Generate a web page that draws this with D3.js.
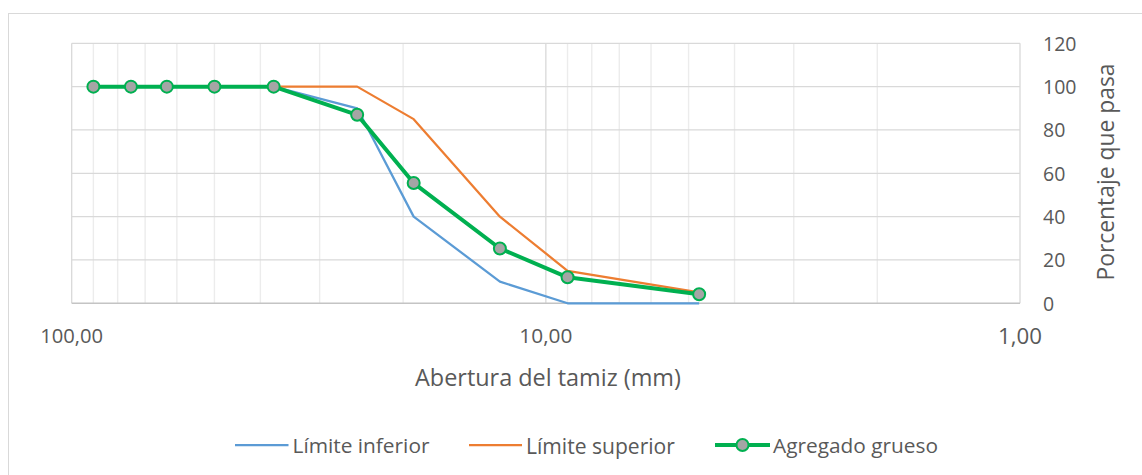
<!DOCTYPE html>
<html>
<head>
<meta charset="utf-8">
<script src="https://cdn.jsdelivr.net/npm/d3@7/dist/d3.min.js"></script>
<style>
  html, body { margin: 0; padding: 0; background: #fff; }
  svg { display: block; }
  text { font-family: "Open Sans", "Noto Sans", sans-serif; fill: #595959; }
</style>
</head>
<body>
<svg id="chart" width="1142" height="475"></svg>
<script>
// Sieve openings (mm) and percentage passing
const tamiz = [90, 75, 63, 50, 37.5, 25, 19, 12.5, 9, 4.75];
const limiteInferior = [100, 100, 100, 100, 100, 90, 40, 10, 0, 0];
const limiteSuperior = [100, 100, 100, 100, 100, 100, 85, 40, 15, 5];
const agregadoGrueso = [100, 100, 100, 100, 100, 87, 55.5, 25.3, 12, 4.2];

// Axis ticks
const xTicks = [100, 10, 1];
const xTickLabels = ["100,00", "10,00", "1,00"];
const xMinorTicks = [90, 80, 70, 60, 50, 40, 30, 20, 9, 8, 7, 6, 5, 4, 3, 2];
const yTicks = [0, 20, 40, 60, 80, 100, 120];

const seriesNames = ["Límite inferior", "Límite superior", "Agregado grueso"];
const colors = { inf: "#5b9bd5", sup: "#ed7d31", agr: "#00b050", marker: "#a5a5a5" };

const svg = d3.select("#chart");

// Chart frame
svg.append("rect")
  .attr("x", 8.5).attr("y", 13.5)
  .attr("width", 1200).attr("height", 500)
  .attr("fill", "none").attr("stroke", "#d9d9d9").attr("stroke-width", 1);

const plot = { left: 71.7, right: 1020, top: 43.3, bottom: 303.3 };

// Log scale running from coarse (left) to fine (right)
const x = d3.scaleLog().domain([100, 1]).range([plot.left, plot.right]);
const y = d3.scaleLinear().domain([0, 120]).range([plot.bottom, plot.top]);

const grid = svg.append("g");

// Minor vertical gridlines
grid.selectAll("line.minor").data(xMinorTicks).join("line")
  .attr("class", "minor")
  .attr("x1", d => x(d)).attr("x2", d => x(d))
  .attr("y1", plot.top).attr("y2", plot.bottom)
  .attr("stroke", "#ececec").attr("stroke-width", 1.4);

// Horizontal gridlines
grid.selectAll("line.h").data(yTicks.filter(d => d > 0)).join("line")
  .attr("class", "h")
  .attr("x1", plot.left).attr("x2", plot.right)
  .attr("y1", d => y(d)).attr("y2", d => y(d))
  .attr("stroke", "#d9d9d9").attr("stroke-width", 1.3);

// Major vertical gridlines
grid.selectAll("line.major").data(xTicks).join("line")
  .attr("class", "major")
  .attr("x1", d => x(d)).attr("x2", d => x(d))
  .attr("y1", plot.top).attr("y2", plot.bottom)
  .attr("stroke", "#d9d9d9").attr("stroke-width", 1.3);

// Horizontal axis line at 0
grid.append("line")
  .attr("x1", plot.left).attr("x2", plot.right)
  .attr("y1", y(0)).attr("y2", y(0))
  .attr("stroke", "#c4c4c4").attr("stroke-width", 1.5);

// Fit a label's font size to a target width
function fitText(sel, targetWidth, base) {
  sel.style("font-size", base + "px");
  const w = sel.node().getComputedTextLength();
  sel.style("font-size", (base * targetWidth / w).toFixed(2) + "px");
  return sel;
}

// X tick labels
const xAxisG = svg.append("g");
xTicks.forEach((t, i) => {
  const lbl = xAxisG.append("text")
    .attr("x", x(t)).attr("y", 335)
    .attr("text-anchor", "middle").attr("dominant-baseline", "central")
    .text(xTickLabels[i]);
  fitText(lbl, i === 0 ? 63 : (i === 1 ? 53 : 44), 20);
});

// Y tick labels (right side)
const yAxisG = svg.append("g");
yTicks.forEach(t => {
  const lbl = yAxisG.append("text")
    .attr("x", 1043).attr("y", y(t))
    .attr("text-anchor", "start").attr("dominant-baseline", "central")
    .text(t);
  lbl.style("font-size", "19.5px");
});

// Axis titles
fitText(svg.append("text")
  .attr("x", 548).attr("y", 377)
  .attr("text-anchor", "middle").attr("dominant-baseline", "central")
  .text("Abertura del tamiz (mm)"), 266, 20);

fitText(svg.append("text")
  .attr("transform", `translate(1105,172) rotate(-90)`)
  .attr("text-anchor", "middle").attr("dominant-baseline", "central")
  .text("Porcentaje que pasa"), 217, 20);

// Series lines
const line = vals => d3.line()
  .x((d, i) => x(tamiz[i]))
  .y(d => y(d))(vals);

svg.append("path").attr("d", line(limiteInferior))
  .attr("fill", "none").attr("stroke", colors.inf).attr("stroke-width", 2.25)
  .attr("stroke-linejoin", "round");
svg.append("path").attr("d", line(limiteSuperior))
  .attr("fill", "none").attr("stroke", colors.sup).attr("stroke-width", 2.25)
  .attr("stroke-linejoin", "round");
svg.append("path").attr("d", line(agregadoGrueso))
  .attr("fill", "none").attr("stroke", colors.agr).attr("stroke-width", 4)
  .attr("stroke-linejoin", "round");

svg.selectAll("circle.pt").data(agregadoGrueso).join("circle")
  .attr("class", "pt")
  .attr("cx", (d, i) => x(tamiz[i])).attr("cy", d => y(d))
  .attr("r", 6)
  .attr("fill", colors.marker).attr("stroke", colors.agr).attr("stroke-width", 2);

// Legend
const legendY = 445;
const legend = [
  { name: seriesNames[0], color: colors.inf, x0: 235, x1: 288.5, tx: 292.5, w: 137, width: 2.25, marker: false },
  { name: seriesNames[1], color: colors.sup, x0: 469, x1: 522, tx: 526, w: 149, width: 2.25, marker: false },
  { name: seriesNames[2], color: colors.agr, x0: 715, x1: 770, tx: 773, w: 165, width: 4, marker: true }
];
const lg = svg.append("g");
legend.forEach(l => {
  lg.append("line")
    .attr("x1", l.x0).attr("x2", l.x1).attr("y1", legendY).attr("y2", legendY)
    .attr("stroke", l.color).attr("stroke-width", l.width);
  if (l.marker) {
    lg.append("circle")
      .attr("cx", (l.x0 + l.x1) / 2).attr("cy", legendY).attr("r", 6)
      .attr("fill", colors.marker).attr("stroke", colors.agr).attr("stroke-width", 2);
  }
  fitText(lg.append("text")
    .attr("x", l.tx).attr("y", legendY)
    .attr("dominant-baseline", "central")
    .text(l.name), l.w, 20);
});
</script>
</body>
</html>
